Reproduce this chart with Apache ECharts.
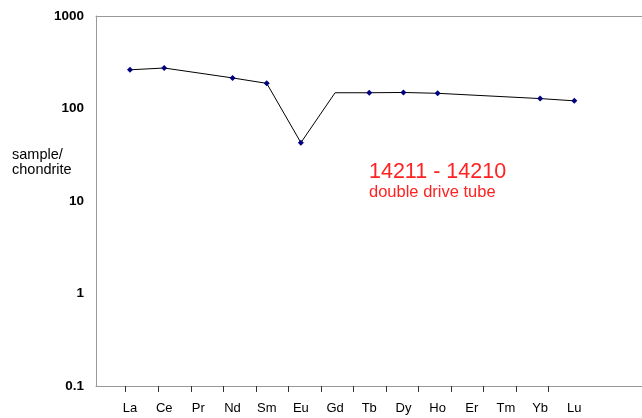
<!DOCTYPE html>
<html>
<head>
<meta charset="utf-8">
<script src="https://cdn.jsdelivr.net/npm/echarts@6/dist/echarts.min.js"></script>
<style>html,body{margin:0;padding:0;background:#fff}#c{width:642px;height:418px}</style>
</head>
<body>
<div id="c"></div>
<script>
var categories = ['La','Ce','Pr','Nd','Sm','Eu','Gd','Tb','Dy','Ho','Er','Tm','Yb','Lu'];
var values = [262, 274, null, 214, 187, 42.7, 148, 148, 149, 146, null, null, 128, 121];
var noMarker = ['Gd'];
var yTicks = [0.1, 1, 10, 100, 1000];

var FONT = 'Liberation Sans, Arial, sans-serif';
var seriesData = [];
categories.forEach(function (c, i) {
  if (values[i] == null) return;
  var item = { value: [i, values[i]] };
  if (noMarker.indexOf(c) >= 0) item.symbol = 'none';
  seriesData.push(item);
});

var chart = echarts.init(document.getElementById('c'), null, { renderer: 'canvas' });
chart.setOption({
  animation: false,
  backgroundColor: '#fff',
  textStyle: { fontFamily: FONT },
  title: [
    { text: 'sample/\nchondrite', left: 12, top: 147, padding: 0,
      textStyle: { fontFamily: FONT, fontSize: 14.5, fontWeight: 'normal', color: '#000', lineHeight: 15 } },
    { text: '14211 - 14210', left: 369, top: 161, padding: 0,
      textStyle: { fontFamily: FONT, fontSize: 21.5, fontWeight: 'normal', color: '#ff2222' } },
    { text: 'double drive tube', left: 369, top: 184, padding: 0,
      textStyle: { fontFamily: FONT, fontSize: 16.5, fontWeight: 'normal', color: '#ff2222' } }
  ],
  grid: [
    { left: 96, right: 0, top: 16, bottom: 32 },
    { left: 125.7, width: 423, top: 16, bottom: 32 }
  ],
  xAxis: [
    { type: 'value', gridIndex: 0, min: -0.995, max: 14.98,
      axisLine: { show: true, onZero: false, lineStyle: { color: '#999' } },
      axisTick: { show: false }, splitLine: { show: false },
      axisLabel: { customValues: categories.map(function (c, i) { return i; }),
        formatter: function (v) { return categories[Math.round(v)]; },
        color: '#000', fontSize: 13, fontFamily: FONT, margin: 16 } },
    { type: 'value', gridIndex: 1, min: 0, max: 13, interval: 1,
      axisLine: { show: false }, splitLine: { show: false }, axisLabel: { show: false },
      axisTick: { show: true, length: 6, lineStyle: { color: '#333' } } },
    { type: 'value', gridIndex: 0, position: 'top', min: 0, max: 1,
      axisLine: { show: true, onZero: false, lineStyle: { color: '#999' } },
      axisTick: { show: false }, splitLine: { show: false }, axisLabel: { show: false } }
  ],
  yAxis: [
    { type: 'log', logBase: 10, gridIndex: 0, min: 0.1, max: 1000,
      axisLine: { show: true, onZero: false, lineStyle: { color: '#999' } },
      axisTick: { show: false }, splitLine: { show: false }, minorSplitLine: { show: false },
      axisLabel: { customValues: yTicks, formatter: function (v) { return String(+v.toPrecision(6)); },
        color: '#000', fontWeight: 'bold', fontSize: 13.5, fontFamily: FONT, margin: 12 } },
    { type: 'value', gridIndex: 1, show: false, min: 0, max: 1 }
  ],
  series: [
    { type: 'line', xAxisIndex: 0, yAxisIndex: 0, data: seriesData,
      symbol: 'diamond', symbolSize: 6, connectNulls: true,
      lineStyle: { color: '#000', width: 1 },
      itemStyle: { color: '#000080' } }
  ]
});
</script>
</body>
</html>
